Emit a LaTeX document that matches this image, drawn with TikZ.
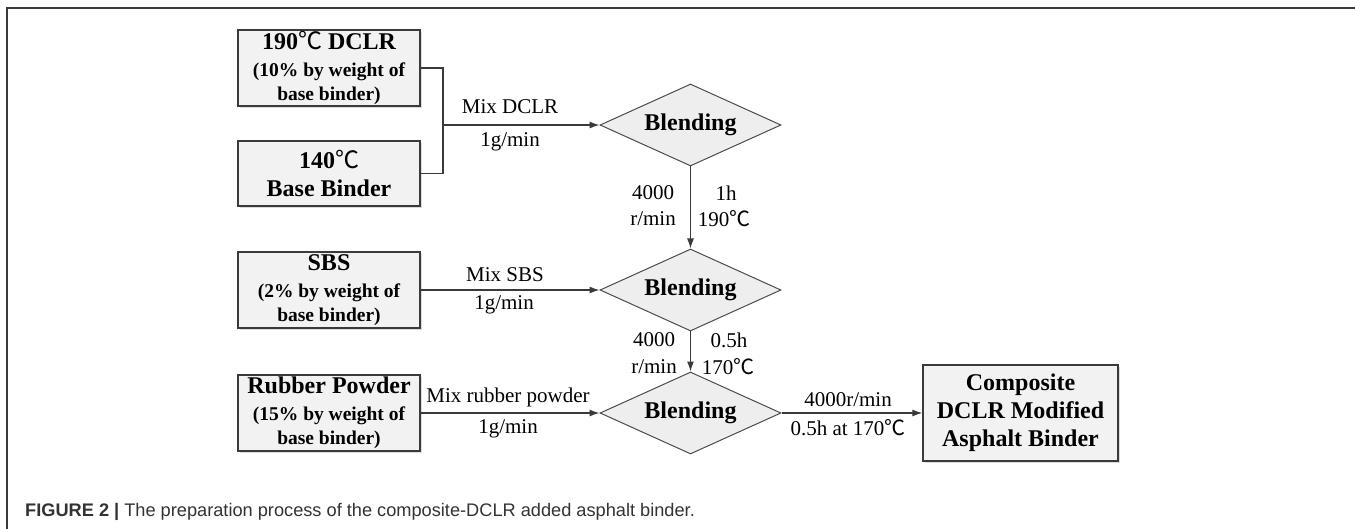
\documentclass[tikz,border=0pt]{standalone}
\usepackage{fontspec}
\setmainfont{Liberation Serif}
\newfontfamily\capfont{Liberation Sans}
\newfontfamily\cjk{Noto Sans CJK SC}
\usetikzlibrary{shapes.geometric,arrows.meta,shadows}
\newcommand{\degC}{{\cjk\mdseries ℃}}
\definecolor{linec}{HTML}{3A3A3A}
\definecolor{boxfill}{HTML}{F2F2F2}
\definecolor{dfill}{HTML}{EEEEEE}
\definecolor{capc}{HTML}{333333}
\begin{document}
\begin{tikzpicture}[x=1pt,y=-1pt,
  procbox/.style={draw=linec, line width=1.3pt, fill=boxfill, inner sep=0pt,
    minimum width=182pt, align=center,
    drop shadow={shadow xshift=2pt, shadow yshift=-2pt, fill=gray!35, opacity=0.8}},
  decision/.style={diamond, draw=gray!60!black, line width=1pt, fill=dfill, inner sep=0pt,
    minimum width=181pt, minimum height=82pt, aspect=2.2,
    font=\fontsize{24}{28}\selectfont\bfseries},
  conn/.style={draw=linec, line width=1.2pt},
  arr/.style={conn, -{Latex[length=10pt,width=7pt]}},
  lbl/.style={inner sep=0pt, font=\fontsize{21}{24}\selectfont},
  title/.style={font=\fontsize{24}{28}\selectfont\bfseries},
  sub/.style={font=\fontsize{19.5}{24}\selectfont\bfseries}]
\useasboundingbox (0,0) rectangle (1355,529);
\fill[white] (0,0) rectangle (1355,529);
% frame
\draw[line width=1.6pt, draw=gray!45!black] (1355,8) -- (7,8) -- (7,529);

% input boxes
\node[procbox, minimum height=76pt, sub] (b1) at (329,68)
  {{\fontsize{24}{28}\selectfont 190\degC{} DCLR}\\[3pt](10\% by weight of\\base binder)};
\node[procbox, minimum height=65pt, title] (b2) at (329,173.5)
  {140\degC\\Base Binder};
\node[procbox, minimum height=76pt, sub] (b3) at (329,290)
  {{\fontsize{24}{28}\selectfont SBS}\\[3pt](2\% by weight of\\base binder)};
\node[procbox, minimum height=76pt, sub] (b4) at (329,413)
  {{\fontsize{24}{28}\selectfont Rubber Powder}\\[3pt](15\% by weight of\\base binder)};
\node[procbox, minimum width=195pt, minimum height=96pt, title] (b5) at (1020.5,413)
  {Composite\\DCLR Modified\\Asphalt Binder};

% decisions
\node[decision] (d1) at (690.5,125) {Blending};
\node[decision] (d2) at (690.5,290) {Blending};
\node[decision] (d3) at (690.5,413) {Blending};

% connectors
\coordinate (j) at (443,125);
\draw[conn] (b1.east) -| (j);
\draw[conn] (b2.east) -| (j);
\draw[arr] (j) -- (d1.west);
\draw[arr] (b3.east) -- (d2.west);
\draw[arr] (b4.east) -- (d3.west);
\draw[arr] (d1.south) -- (d2.north);
\draw[arr] (d2.south) -- (d3.north);
\draw[arr] (d3.east) -- (b5.west);

% labels
\node[lbl] (l1) at (510,107) {Mix DCLR};
\node[lbl] (l2) at (510,142) {1g/min};
\node[lbl] (l3) at (505,275) {Mix SBS};
\node[lbl] (l4) at (504,305) {1g/min};
\node[lbl] (l5) at (508,397) {Mix rubber powder};
\node[lbl] (l6) at (508,429) {1g/min};
\node[lbl] (l7) at (848,400) {4000r/min};
\node[lbl] (l8) at (848,428) {0.5h at 170\degC};
\node[lbl] (l9) at (653,193) {4000};
\node[lbl] (l10) at (653,219) {r/min};
\node[lbl] (l11) at (726,193) {1h};
\node[lbl] (l12) at (724,219) {190\degC};
\node[lbl] (l13) at (654,340) {4000};
\node[lbl] (l14) at (654,367) {r/min};
\node[lbl] (l15) at (729,340) {0.5h};
\node[lbl] (l16) at (728,367) {170\degC};

% caption
\node[anchor=base west, inner sep=0pt, text=capc, font=\capfont\fontsize{18.2}{21}\selectfont] (cap) at (25,516)
  {\textbf{FIGURE 2 |} The preparation process of the composite-DCLR added asphalt binder.};
\end{tikzpicture}
\end{document}
